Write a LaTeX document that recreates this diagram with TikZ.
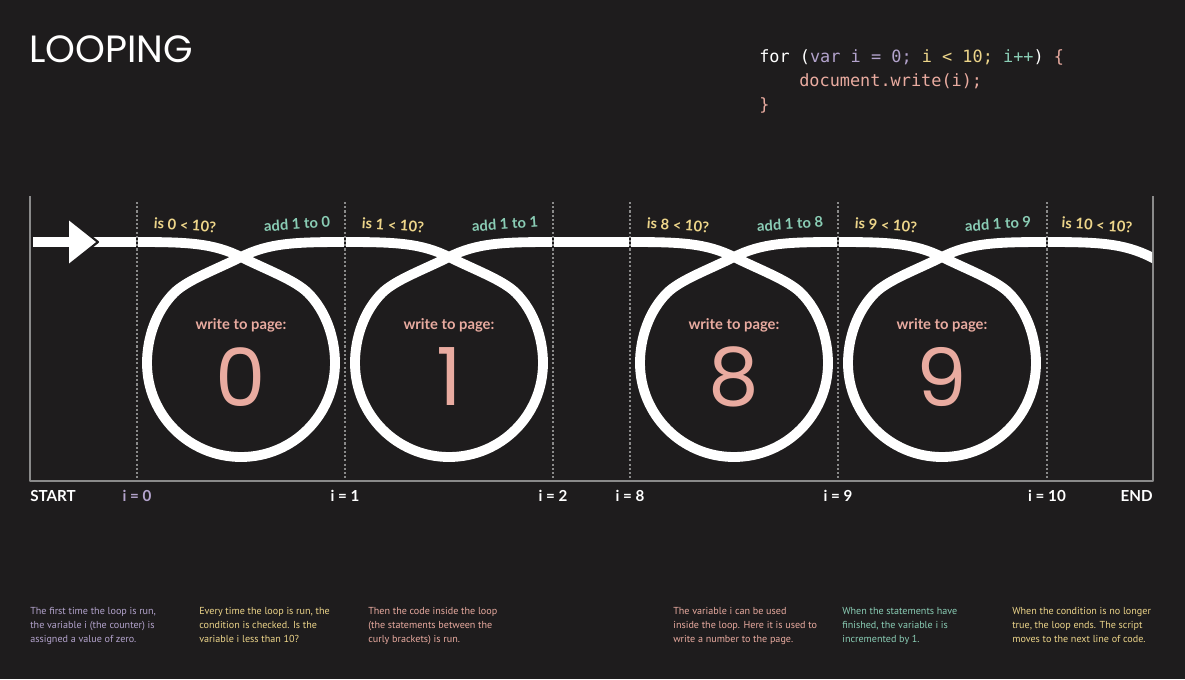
\documentclass[tikz,border=0pt]{standalone}
\usepackage{fontspec}
\setmainfont{Lato}
\newfontfamily\codefont{DejaVu Sans Mono}
\newfontfamily\notefont{PT Sans}
\newfontfamily\titlefont{Poppins}
\definecolor{bg}{HTML}{1E1C1D}
\definecolor{rule}{HTML}{8A8A8A}
\definecolor{lav}{HTML}{B3A3CC}
\definecolor{gold}{HTML}{EDD58A}
\definecolor{mint}{HTML}{8ACDB5}
\definecolor{rose}{HTML}{E9ABA0}
\begin{document}
\begin{tikzpicture}[x=0.025cm, y=-0.025cm, line join=round, line cap=butt,
	track/.style={white, line width=7pt},
	divider/.style={rule, line width=0.8pt, dash pattern=on 1.5pt off 1.5pt},
	testlabel/.style={font=\bfseries\fontsize{10.5}{11}\selectfont, inner sep=0pt},
	pagelabel/.style={rose, font=\bfseries\fontsize{10.5}{11}\selectfont, inner sep=0pt},
	digit/.style={rose, font=\titlefont\fontsize{57}{57}\selectfont, inner sep=0pt},
	poslabel/.style={white, font=\bfseries\fontsize{10.8}{11}\selectfont, inner sep=0pt},
	note/.style={anchor=north west, align=left, inner sep=0pt, font=\notefont\fontsize{7.2}{9.9}\selectfont}]
	\fill[bg] (0,0) rectangle (1185,679);
	\draw[rule, line width=1pt] (30,196) -- (30,481) -- (1153,481) -- (1153,196);
	\begin{scope}
		\clip (31,190) rectangle (1152,490);
		\draw[track] (33,242) -- (137,242);
		\foreach \xa in {137,345,630,838}{
			\pgfmathtruncatemacro{\cx}{\xa+104}
			\draw[track] (\xa,242) .. controls (\xa+50,242) and (\cx-28,243) .. (\cx,257)
				.. controls (\cx+26,270) and (\cx+54,280) .. (\cx+67,293)
				.. controls (\cx+85,311) and (\cx+94,338) .. (\cx+94,363)
				.. controls (\cx+94,415) and (\cx+52,457) .. (\cx,457)
				.. controls (\cx-52,457) and (\cx-94,415) .. (\cx-94,363)
				.. controls (\cx-94,338) and (\cx-85,311) .. (\cx-67,293)
				.. controls (\cx-54,280) and (\cx-26,270) .. (\cx,257)
				.. controls (\cx+28,243) and (\xa+158,242) .. (\xa+208,242);
		}
		\draw[track] (553,242) -- (630,242);
		\draw[track] (1047,242) .. controls (1097,242) and (1123,243) .. (1151,257) -- (1171,267);
	\end{scope}
	\fill[white] (69,219) -- (98,242) -- (69,265) -- cycle;
	\draw[bg, line width=1.5pt] (69,219) -- (98,242) -- (69,265);
	\foreach \xd in {137,345,553,630,838,1047}{
		\draw[bg, line width=1.2pt] (\xd,236) -- (\xd,248);
		\draw[divider] (\xd,202) -- (\xd,481);
	}
	\foreach \xa/\n in {137/0,345/1,630/8,838/9}{
		\node[testlabel, gold, rotate=-4] (is\n) at (\xa+48,225) {is \n\ < 10?};
		\node[testlabel, mint, rotate=4] (add\n) at (\xa+160,224) {add 1 to \n};
		\node[pagelabel] (write\n) at (\xa+104,325) {write to page:};
		\node[digit] (digit\n) at (\xa+104,377) {\n};
	}
	\node[testlabel, gold, rotate=-4] (is10) at (1097,225) {is 10 < 10?};
	\node[poslabel, anchor=west] (start) at (30,496) {START};
	\node[poslabel, lav] (i0) at (137,496) {i = 0};
	\foreach \xd/\n in {345/1,553/2,630/8,838/9,1047/10}{
		\node[poslabel] (i\n) at (\xd,496) {i = \n};
	}
	\node[poslabel, anchor=east] (end) at (1153,496) {END};
	\node[anchor=base west, inner sep=0pt, white, font=\titlefont\fontsize{27}{28}\selectfont] (title) at (29,62) {LOOPING};
	\node[anchor=base west, inner sep=0pt, font=\codefont\fontsize{12}{14}\selectfont] (code1) at (759,62)
		{\textcolor{white}{for (}\textcolor{lav}{var i = 0;} \textcolor{gold}{i < 10;} \textcolor{mint}{i++}\textcolor{white}{)} \textcolor{rose}{\{}};
	\node[anchor=base west, inner sep=0pt, rose, font=\codefont\fontsize{12}{14}\selectfont] (code2) at (799,86) {document.write(i);};
	\node[anchor=base west, inner sep=0pt, rose, font=\codefont\fontsize{12}{14}\selectfont] (code3) at (759,110) {\}};
	\node[note, lav] (note1) at (30,607) {The first time the loop is run,\\the variable i (the counter) is\\assigned a value of zero.};
	\node[note, gold] (note2) at (199,607) {Every time the loop is run, the\\condition is checked. Is the\\variable i less than 10?};
	\node[note, rose] (note3) at (368,607) {Then the code inside the loop\\(the statements between the\\curly brackets) is run.};
	\node[note, rose] (note4) at (673,607) {The variable i can be used\\inside the loop. Here it is used to\\write a number to the page.};
	\node[note, mint] (note5) at (842,607) {When the statements have\\finished, the variable i is\\incremented by 1.};
	\node[note, gold] (note6) at (1012,607) {When the condition is no longer\\true, the loop ends. The script\\moves to the next line of code.};
\end{tikzpicture}
\end{document}
